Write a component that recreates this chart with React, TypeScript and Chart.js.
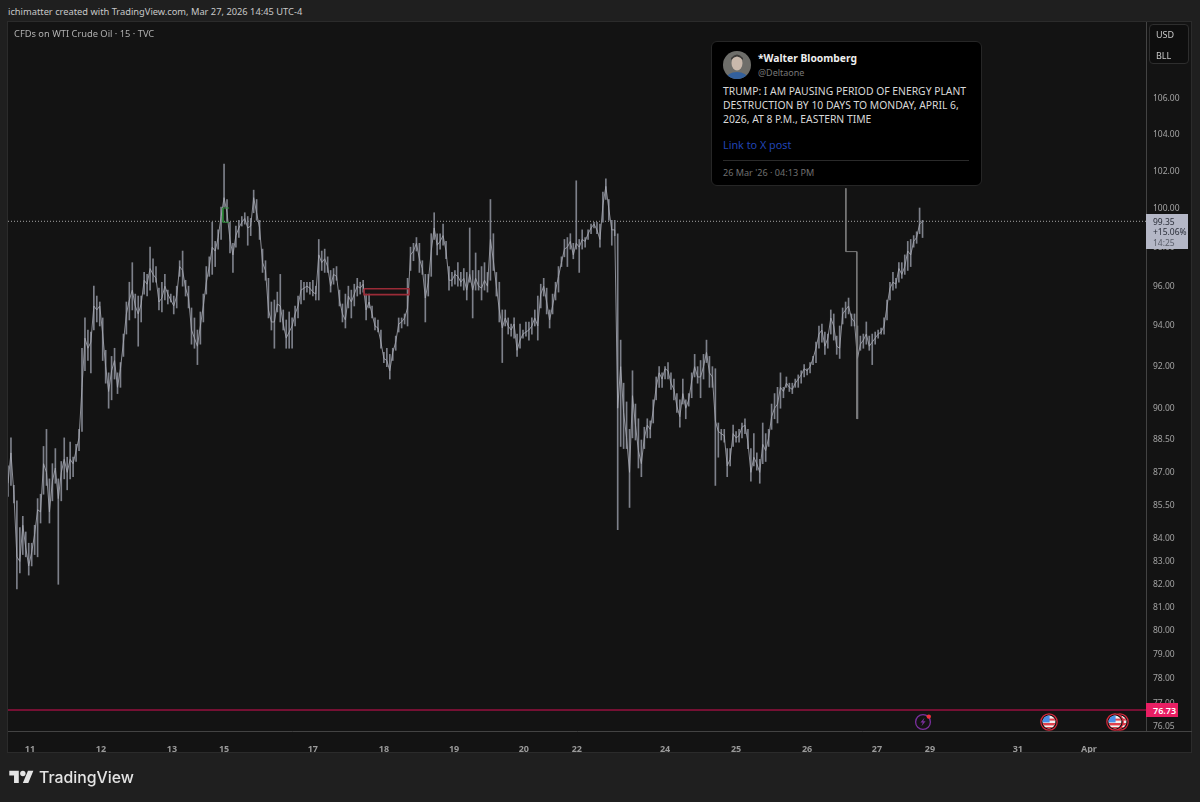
import { useEffect, useRef } from "react";
import Chart from "chart.js/auto";

// one column per session hour, left to right from Mar 11
const highs = [
  87.3,88.6,86.4,85.7,84.5,85.0,84.3,83.8,83.8,84.6,
  85.8,86.0,88.2,89.0,86.7,87.4,88.1,86.7,87.5,88.6,
  87.7,88.4,87.7,88.3,89.0,92.9,94.4,93.8,93.7,96.0,
  95.5,95.2,94.4,92.8,91.7,92.5,92.9,91.7,92.2,93.6,
  95.2,96.2,97.2,95.6,95.5,95.5,96.7,96.6,98.0,97.4,
  97.0,95.9,96.2,96.6,95.8,95.6,95.5,96.0,97.3,97.8,
  96.3,96.0,94.9,94.4,93.8,94.7,95.6,97.0,97.5,99.3,
  98.3,98.9,100.1,102.4,100.5,99.3,98.2,99.1,99.4,99.6,
  99.8,99.6,99.5,101.0,100.5,99.4,97.9,97.3,96.4,95.2,
  95.3,95.7,96.6,94.8,94.3,94.7,94.4,95.0,95.5,96.3,
  96.2,96.2,96.2,96.3,96.0,98.4,97.8,97.9,97.5,96.8,
  96.9,97.0,95.8,95.1,95.6,96.0,95.8,96.1,96.4,96.2,
  96.3,95.6,95.6,95.0,94.4,94.3,93.8,92.7,92.9,92.6,
  92.9,93.5,94.4,94.4,94.6,96.4,98.0,98.2,98.5,98.2,
  97.3,96.6,96.6,98.7,99.8,98.7,98.7,99.2,98.3,97.0,
  96.7,96.8,97.2,96.7,96.9,96.7,99.0,96.8,97.7,96.8,
  97.0,97.2,96.7,100.5,98.7,96.7,96.2,94.8,94.8,94.4,
  94.1,94.4,93.6,94.1,93.8,94.2,94.2,94.4,94.8,95.5,
  96.1,96.4,95.9,94.8,95.6,96.2,97.0,97.5,98.4,98.5,
  98.7,98.2,101.5,98.4,98.9,98.5,98.9,99.2,99.3,99.3,
  99.2,100.9,101.6,100.5,99.4,99.4,98.7,93.3,91.2,90.3,
  89.0,91.8,90.2,89.5,88.5,89.1,89.5,89.4,90.4,91.5,
  92.0,91.7,92.0,92.2,91.7,91.4,90.7,90.4,91.4,90.4,
  90.7,91.7,92.6,92.0,92.3,92.6,93.3,92.5,92.0,91.9,
  89.3,89.0,89.0,88.1,88.1,89.2,88.9,89.0,89.3,89.5,
  89.0,88.1,88.8,87.9,87.6,89.3,88.8,89.0,90.2,90.7,
  91.0,91.7,91.0,91.5,91.2,91.2,91.4,91.6,91.8,92.1,
  91.9,92.2,92.5,93.2,94.0,94.1,93.7,93.6,94.8,94.6,
  93.5,94.0,94.9,95.2,95.4,94.6,94.6,94.0,93.5,93.6,
  94.2,93.5,93.6,93.7,93.8,93.9,94.4,95.3,96.2,96.7,
  96.4,97.2,97.2,97.6,98.3,98.4,98.6,98.8,100.05,99.4,
];

const lows = [
  85.9,86.4,85.6,81.8,82.5,83.3,83.2,82.4,82.8,83.3,
  83.2,84.7,86.0,86.4,84.7,85.7,86.5,82.0,85.7,86.7,
  86.2,86.7,86.8,87.5,88.0,88.9,91.8,92.3,91.7,93.8,
  94.2,94.0,92.3,91.2,90.0,90.4,91.4,90.7,91.0,92.5,
  93.6,94.3,94.8,94.4,93.0,94.2,95.6,95.5,95.8,96.2,
  96.2,94.8,94.7,95.3,95.1,95.2,94.6,94.9,96.5,96.0,
  95.5,94.9,93.1,92.9,92.1,93.1,94.2,95.6,96.5,96.6,
  97.0,97.9,98.4,100.1,99.3,97.7,96.7,98.0,98.5,99.1,
  99.2,98.1,98.6,99.8,99.4,98.4,96.7,96.3,94.4,93.8,
  92.9,94.7,94.2,93.8,92.9,92.9,92.9,94.0,94.4,95.1,
  95.3,95.7,95.6,95.5,95.3,95.3,96.8,96.7,96.7,95.7,
  96.1,96.3,95.0,94.2,93.9,94.9,94.4,95.0,95.5,95.6,
  95.7,94.3,94.9,94.4,93.8,93.7,92.9,92.2,92.0,91.4,
  92.3,92.8,93.7,93.9,94.1,94.0,96.8,97.3,97.8,96.7,
  96.6,94.2,95.5,96.5,98.4,97.6,97.9,98.1,97.4,95.8,
  96.0,96.1,96.0,96.0,95.8,95.3,96.2,94.4,95.8,95.8,
  95.3,95.8,95.7,96.3,96.8,95.5,94.2,92.2,94.0,93.6,
  93.5,93.4,92.5,92.9,93.4,93.5,93.3,93.6,94.0,93.3,
  94.9,95.5,94.6,93.9,94.6,95.3,95.7,97.0,97.5,97.0,
  97.9,97.4,97.9,96.7,97.9,98.0,98.4,98.7,99.0,98.7,
  98.0,99.3,100.5,99.4,98.1,98.6,84.4,88.2,88.1,88.1,
  85.4,88.6,88.5,87.2,86.8,88.1,88.6,88.6,89.3,90.4,
  91.0,91.0,91.4,91.4,90.9,90.4,89.8,89.1,90.2,89.5,
  90.1,90.5,91.5,91.2,90.5,91.4,92.2,91.0,91.0,86.4,
  87.7,88.5,88.4,86.8,87.3,88.2,88.4,88.4,88.6,88.8,
  88.1,86.6,87.3,87.1,86.5,87.4,87.5,88.2,89.0,89.5,
  89.3,90.0,90.5,91.0,90.8,90.7,91.0,91.0,91.2,91.5,
  91.6,91.7,92.1,92.2,92.9,93.2,92.6,92.9,93.6,93.3,
  92.6,92.4,94.1,94.4,94.6,94.0,94.0,89.5,92.8,92.9,
  93.1,92.8,92.1,93.1,93.4,93.6,93.6,94.3,95.3,95.8,
  95.9,96.2,96.4,96.6,96.8,97.0,98.0,98.2,98.7,98.5,
];

const closes = [
  86.5,87.9,86.0,83.2,83.0,84.6,83.6,82.8,83.4,84.2,
  85.3,85.2,87.4,87.0,85.2,86.6,87.2,85.8,87.0,87.6,
  87.0,87.6,87.4,88.0,88.6,91.0,93.4,92.9,93.2,95.0,
  94.8,95.0,93.6,92.0,90.8,91.8,92.3,91.0,91.9,93.2,
  94.6,95.3,95.8,95.0,94.6,95.1,96.3,96.1,96.9,96.6,
  96.4,95.2,95.4,96.0,95.6,95.3,95.0,95.5,97.0,96.8,
  95.9,95.4,93.8,93.4,93.0,94.0,95.0,96.2,97.0,98.0,
  97.8,98.5,99.6,100.6,99.8,98.4,97.6,98.6,99.0,99.3,
  99.5,99.0,99.1,100.6,99.8,99.0,97.2,96.8,94.8,94.2,
  94.2,95.1,95.0,94.1,93.4,93.7,94.0,94.6,95.0,95.8,
  95.9,96.0,95.9,95.7,95.6,97.6,97.2,97.4,97.0,96.0,
  96.6,96.5,95.3,94.6,94.3,95.5,95.2,95.6,96.0,95.9,
  96.1,94.8,95.2,94.6,94.0,93.9,93.2,92.4,92.3,91.8,
  92.7,93.2,94.1,94.2,94.4,94.9,97.6,97.8,98.2,97.4,
  96.9,95.4,96.2,97.8,99.0,98.1,98.3,98.6,97.8,96.3,
  96.3,96.6,96.5,96.2,96.4,95.8,96.6,95.8,96.4,96.0,
  95.9,96.3,96.0,98.4,97.3,96.0,94.8,93.9,94.4,94.0,
  93.8,94.1,92.8,93.3,93.6,93.7,93.8,94.0,94.4,94.0,
  95.6,96.0,95.2,94.3,95.0,95.8,96.5,97.2,97.9,98.0,
  98.3,97.6,98.2,98.0,98.4,98.3,98.7,99.0,99.2,98.9,
  98.4,100.2,101.2,100.0,98.9,98.9,90.0,92.0,89.8,88.6,
  87.0,90.6,89.2,88.0,87.4,88.6,89.2,89.0,89.9,91.0,
  91.7,91.4,91.9,91.8,91.2,90.9,90.1,89.6,90.7,90.0,
  90.4,91.3,92.0,91.5,91.5,92.0,92.7,91.7,91.5,89.4,
  88.9,88.8,88.7,87.3,87.6,88.8,88.6,88.7,89.1,89.2,
  88.4,87.0,87.7,87.4,87.0,88.3,88.0,88.6,89.6,90.0,
  90.2,91.0,90.8,91.2,91.0,90.9,91.2,91.4,91.6,91.9,
  91.8,92.0,92.4,92.9,93.6,93.8,93.0,93.4,94.4,94.0,
  93.0,92.9,94.6,94.8,95.0,94.4,94.2,92.4,93.1,93.3,
  93.6,93.0,93.2,93.4,93.6,93.7,94.0,95.0,95.9,96.2,
  96.1,96.9,96.6,97.0,97.8,97.6,98.3,98.5,99.2,99.35,
];

const priceTicks = [
  106, 104, 102, 100, 98, 96, 94, 92, 90, 88.5, 87, 85.5, 84, 83, 82, 81, 80,
  79, 78, 77, 76.05,
];
const dayTicks = [7.4, 31.4, 55.4, 73, 103, 127, 150.7, 174.3, 192.2, 222, 246, 270, 293.6, 311.5, 341.2, 365.2];
const dayLabels = ["11", "12", "13", "15", "17", "18", "19", "20", "22", "24", "25", "26", "27", "29", "31", "Apr"];

const lastPrice = 99.35;
const basePrice = 76.73;
const hourMax = 384.5;
const priceMin = 75.88;
const priceMax = 110.39;

// drawings on the chart, [hour, price]
const zoneBox = [[120.3, 95.87], [135.5, 95.87], [135.5, 95.57], [120.3, 95.57], [120.3, 95.87]];
const greenMark = [[74.7, 100.05], [72.6, 100.05], [72.6, 99.3], [74.7, 99.3]];
const tweetStem = [[283.1, 101.1], [283.1, 97.77], [286.8, 97.77], [286.8, 89.5]];

const toPoints = (rows: number[][]) => rows.map(([x, y]) => ({ x, y }));

const FONT = '"Noto Sans", sans-serif';

function text(
  left: number,
  top: number,
  size: number,
  color: string,
  value: string,
  extra: React.CSSProperties = {},
) {
  return (
    <div
      style={{
        position: "absolute",
        left,
        top,
        fontSize: size,
        color,
        fontFamily: FONT,
        lineHeight: 1,
        whiteSpace: "nowrap",
        ...extra,
      }}
    >
      {value}
    </div>
  );
}

function FlagIcon({ left, top }: { left: number; top: number }) {
  return (
    <svg width="18" height="18" viewBox="0 0 18 18" style={{ position: "absolute", left, top }}>
      <circle cx="9" cy="9" r="8.2" fill="#131313" stroke="#d9283c" strokeWidth="1.2" />
      <clipPath id={`flag${left}`}>
        <circle cx="9" cy="9" r="6.4" />
      </clipPath>
      <g clipPath={`url(#flag${left})`}>
        <rect x="2" y="2" width="14" height="14" fill="#f1f1f1" />
        <rect x="2" y="10" width="14" height="2.4" fill="#e0404c" />
        <rect x="2" y="14" width="14" height="2.4" fill="#e0404c" />
        <rect x="9" y="5.6" width="8" height="2" fill="#e0404c" />
        <rect x="2" y="2" width="7.6" height="7.4" fill="#4a8ee8" />
      </g>
    </svg>
  );
}

export default function App() {
  const canvasRef = useRef<HTMLCanvasElement | null>(null);
  const chartRef = useRef<Chart | null>(null);

  useEffect(() => {
    document.body.style.margin = "0";
    document.body.style.background = "#1f1f1f";
    const canvas = canvasRef.current;
    if (!canvas) {
      return;
    }

    chartRef.current?.destroy();
    chartRef.current = new Chart(canvas, {
      type: "bar",
      data: {
        datasets: [
          {
            type: "line",
            data: closes.map((y, x) => ({ x, y })),
            borderColor: "#a9acb6",
            borderWidth: 0.8,
            pointRadius: 0,
            order: 1,
          },
          {
            type: "bar",
            data: highs.map((h, x) => ({ x, y: [lows[x], h] })),
            backgroundColor: "#7d808a",
            barThickness: 1,
            order: 2,
          },
          {
            type: "line",
            data: [{ x: 0, y: lastPrice }, { x: hourMax, y: lastPrice }],
            borderColor: "#a8a8a8",
            borderWidth: 1,
            borderDash: [1, 2],
            pointRadius: 0,
            order: 3,
          },
          {
            type: "line",
            data: [{ x: 0, y: basePrice }, { x: hourMax, y: basePrice }],
            borderColor: "#97103f",
            borderWidth: 1.5,
            pointRadius: 0,
            order: 3,
          },
          {
            type: "line",
            data: toPoints(zoneBox),
            borderColor: "#9a2b37",
            backgroundColor: "rgba(142,43,53,0.35)",
            fill: true,
            borderWidth: 1.6,
            pointRadius: 0,
            order: 0,
          },
          {
            type: "line",
            data: toPoints(greenMark),
            borderColor: "#2f8f3c",
            borderWidth: 1,
            pointRadius: 0,
            order: 0,
          },
          {
            type: "line",
            data: toPoints(tweetStem),
            borderColor: "#7a7a7a",
            borderWidth: 1,
            pointRadius: 0,
            order: 0,
          },
        ],
      },
      options: {
        responsive: false,
        animation: false,
        parsing: { xAxisKey: "x", yAxisKey: "y" },
        layout: { padding: { left: 8, right: 8, top: 22, bottom: 49 } },
        plugins: { legend: { display: false }, tooltip: { enabled: false } },
        scales: {
          x: {
            type: "linear",
            offset: false,
            min: 0,
            max: hourMax,
            grid: { display: false },
            border: { color: "#434343", width: 1 },
            afterBuildTicks: (scale) => {
              scale.ticks = dayTicks.map((value) => ({ value }));
            },
            afterFit: (scale) => {
              scale.height = 22;
            },
            ticks: {
              autoSkip: false,
              maxRotation: 0,
              padding: 5,
              color: "#9a9a9a",
              font: { family: "Noto Sans", size: 9, weight: "bold" },
              callback: (value) => dayLabels[dayTicks.indexOf(Number(value))],
            },
          },
          y: {
            type: "logarithmic",
            position: "right",
            min: priceMin,
            max: priceMax,
            grid: { display: false, drawTicks: false },
            border: { color: "#434343", width: 1 },
            afterBuildTicks: (scale) => {
              scale.ticks = priceTicks.map((value) => ({ value }));
            },
            afterFit: (scale) => {
              scale.width = 46;
            },
            ticks: {
              autoSkip: false,
              padding: 7,
              color: "#a3a3a3",
              crossAlign: "near",
              font: { family: "Noto Sans", size: 8.5 },
              callback: (value) => Number(value).toFixed(2),
            },
          },
        },
      },
    });

    return () => {
      chartRef.current?.destroy();
      chartRef.current = null;
    };
  }, []);

  return (
    <div style={{ position: "absolute", left: 0, top: 0, width: 1200, height: 802, background: "#1f1f1f", overflow: "hidden" }}>
      {text(8, 6.5, 9.3, "#c8c8c8", "ichimatter created with TradingView.com, Mar 27, 2026 14:45 UTC-4")}

      {/* chart panel */}
      <div style={{ position: "absolute", left: 7, top: 21, width: 1185, height: 732, background: "#131313", border: "1px solid #2b2b2b", boxSizing: "border-box" }} />
      <canvas ref={canvasRef} width={1200} height={802} style={{ position: "absolute", left: 0, top: 0, width: 1200, height: 802 }} />
      <div style={{ position: "absolute", left: 1146, top: 731, width: 46, height: 1, background: "#434343" }} />

      {text(14, 28.5, 9.3, "#b0b0b0", "CFDs on WTI Crude Oil · 15 · TVC")}

      {/* currency and unit */}
      <div style={{ position: "absolute", left: 1149, top: 24, width: 40, height: 40, background: "#0e0e0e", border: "1px solid #2e2e2e", borderRadius: 4, boxSizing: "border-box" }} />
      {text(1156, 30, 9, "#c8c8c8", "USD")}
      {text(1156, 51, 9, "#c8c8c8", "BLL")}

      {/* price tags */}
      <div style={{ position: "absolute", left: 1146, top: 214, width: 42, height: 35, background: "#b4b7c6" }} />
      {text(1153, 217.5, 8.5, "#2a2e39", "99.35")}
      {text(1153, 228, 8.5, "#2a2e39", "+15.06%")}
      {text(1153, 238.5, 8.5, "#5a5e69", "14:25")}
      <div style={{ position: "absolute", left: 1146, top: 703, width: 32, height: 14, background: "#e91e63" }} />
      {text(1153, 705.5, 9, "#ffffff", "76.73", { fontWeight: 600 })}

      {/* tweet */}
      <div style={{ position: "absolute", left: 711, top: 41, width: 271, height: 145, background: "#000000", border: "1px solid #262626", borderRadius: 6, boxSizing: "border-box" }} />
      <svg width="28" height="28" viewBox="0 0 28 28" style={{ position: "absolute", left: 723, top: 51 }}>
        <clipPath id="face">
          <circle cx="14" cy="14" r="14" />
        </clipPath>
        <g clipPath="url(#face)">
          <rect width="28" height="28" fill="#6e6e6a" />
          <ellipse cx="14" cy="12" rx="5.5" ry="7.5" fill="#c9b9ac" />
          <path d="M8 9 Q14 2 20 9 L20 7 Q14 0 8 7Z" fill="#3c3a38" />
          <ellipse cx="14" cy="28" rx="11" ry="7" fill="#33609c" />
        </g>
      </svg>
      {text(758, 52.5, 10.3, "#eeeeee", "*Walter Bloomberg", { fontWeight: 700 })}
      {text(758, 67.5, 9, "#777777", "@Deltaone")}
      {text(723, 85.5, 10.35, "#d8d8d8", "TRUMP: I AM PAUSING PERIOD OF ENERGY PLANT")}
      {text(723, 99.5, 10.35, "#d8d8d8", "DESTRUCTION BY 10 DAYS TO MONDAY, APRIL 6,")}
      {text(723, 113.5, 10.35, "#d8d8d8", "2026, AT 8 P.M., EASTERN TIME")}
      {text(723, 139.5, 10.8, "#2145b5", "Link to X post")}
      <div style={{ position: "absolute", left: 723, top: 160, width: 246, height: 1, background: "#2a2a2a" }} />
      {text(723, 167.5, 9.1, "#6f6f6f", "26 Mar '26 · 04:13 PM")}

      {/* event icons */}
      <svg width="18" height="18" viewBox="0 0 18 18" style={{ position: "absolute", left: 914, top: 713 }}>
        <circle cx="9" cy="9" r="7.4" fill="none" stroke="#7b2f9e" strokeWidth="1.3" />
        <path d="M10.5 4.8 L6.4 9.6 H8.8 L7.4 13.2 L11.6 8.2 H9.2 Z" fill="#7b2f9e" />
        <circle cx="14.8" cy="3.6" r="2.2" fill="#f0323c" />
      </svg>
      <FlagIcon left={1040} top={713} />
      <FlagIcon left={1111} top={713} />
      <FlagIcon left={1106} top={713} />

      {/* footer logo */}
      <svg width="25" height="19" viewBox="0 0 36 28" style={{ position: "absolute", left: 9, top: 768 }}>
        <path d="M14 22H7V11H0V4h14v18zM28 22h-8l7.5-18h8L28 22z" fill="#e4e4e4" />
        <circle cx="20" cy="8" r="4" fill="#e4e4e4" />
      </svg>
      {text(39, 770, 15.8, "#e4e4e4", "TradingView", { fontFamily: "Inter, sans-serif", fontWeight: 500 })}
    </div>
  );
}
